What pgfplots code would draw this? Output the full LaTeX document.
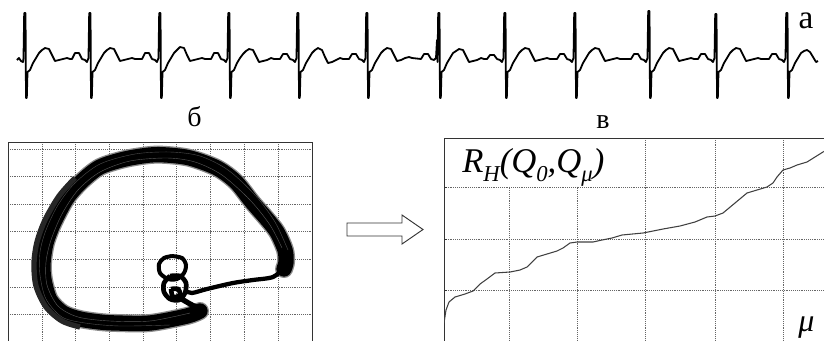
\documentclass[border=0pt]{standalone}
\usepackage{fontspec}
\setmainfont{Liberation Serif}
\usepackage{pgfplots}
\pgfplotsset{compat=1.18}
\newcommand{\sub}[2]{\raisebox{-0.28em}{\fontsize{#1}{#1}\selectfont #2}}
\begin{document}
\begin{tikzpicture}
\useasboundingbox (0,0) rectangle (618pt,-255pt);
\clip (0,0) rectangle (618pt,-255pt);
% ---------- bottom-left: phase portrait ----------
\begin{axis}[at={(6pt,-106.5pt)}, anchor=north west, scale only axis,
  width=228pt, height=157.5pt,
  xmin=8, xmax=312, ymin=142, ymax=352, y dir=reverse,
  xtick={42,75.7,109.4,143.1,176.8,210.5,244.2,277.9},
  ytick={149,176.6,204.2,231.8,259.4,287,314.6,342.2},
  xticklabels={}, yticklabels={}, major tick length=0pt,
  grid=major, grid style={densely dotted, black!60, line width=0.6pt},
  axis line style={line width=0.7pt, black!80}]
\addplot[black!45, line width=13.5pt, smooth, line cap=round] coordinates {
 (200,311)(187,316)(150,323)(117,323)(100,322)(80,319)(63,313)(50,300)(44,280)(43,263)(46,243)(54,222)(67,198)(82,181)(100,167)(125,159)(150,155)(167,155)(190,158)(217,168)(236,182)(252,202)(266,218)(277,232)(285,250)(286,262)(284,269)};
\addplot[black, line width=11.5pt, smooth, line cap=round] coordinates {
 (200,311)(187,316)(150,323)(117,323)(100,322)(80,319)(63,313)(50,300)(44,280)(43,263)(46,243)(54,222)(67,198)(82,181)(100,167)(125,159)(150,155)(167,155)(190,158)(217,168)(236,182)(252,202)(266,218)(277,232)(285,250)(286,262)(284,269)};
\addplot[black!85, line width=4pt, smooth] coordinates {
 (80,327)(62,321)(46,307)(36,286)(34,263)(37,242)(45,220)(59,196)(75,178)};
\addplot[white, line width=0.3pt, smooth, opacity=0.35] coordinates {
 (190,313)(150,321)(110,321)(78,317)(58,306)(47,285)(46,262)(51,240)(62,214)(78,190)(100,172)(130,161)(167,158)(195,162)(222,175)(250,200)(270,225)(282,248)};
\addplot[white, line width=0.3pt, smooth, opacity=0.3] coordinates {
 (170,325)(120,326)(85,323)(62,317)(46,299)(40,275)(40,252)(46,230)(58,205)(75,183)(100,164)(135,154)(170,152)(200,156)(228,170)(255,195)(275,222)(288,250)};
\addplot[black, line width=3.2pt, smooth] coordinates {
 (284,268)(273,277)(253,280)(233,283)(207,289)(192,293)(186,291)};
\addplot[black, line width=3pt, smooth] coordinates {
 (172,256)(182,258)(186,265)(184,273)(177,279)(168,279)(160,273)(159,264)(164,258)(172,256)};
\addplot[black, line width=3.5pt, smooth] coordinates {
 (170,276)(180,276)(186,283)(185,293)(179,300)(170,299)(164,292)(164,283)(170,276)};
\addplot[black, line width=3.5pt, smooth] coordinates {
 (171,289)(178,289)(180,295)(173,297)(171,289)};
\addplot[black, line width=4pt, smooth] coordinates {
 (180,298)(192,305)(203,310)};
\end{axis}
% ---------- bottom-right: R_H curve ----------
\begin{axis}[at={(333pt,-103.5pt)}, anchor=north west, scale only axis,
  width=319.5pt, height=160.5pt,
  xmin=444, xmax=870, ymin=138, ymax=352, y dir=reverse,
  xtick={509,577,645,715,783,851}, ytick={187,239,290},
  xticklabels={}, yticklabels={},
  xtick style={draw=none}, ytick style={line width=0.6pt, black!80},
  tick align=inside, major tick length=2.5pt, ytick pos=left,
  grid=major, grid style={densely dotted, black!60, line width=0.7pt},
  axis line style={line width=0.7pt, black!80}]
\fill[white] (axis cs:445.5,139.5) rectangle (axis cs:612,186);
\addplot[black!75, line width=0.8pt] coordinates {
 (444,323)(446,310)(449,302)(455,297)(465,294)(473,291)(480,284)(487,279)(495,273)(510,272)(520,270)(527,267)(537,257)(547,254)(557,251)(563,248)(570,243)(577,242)(593,242)(602,240)(612,238)(622,235)(643,233)(663,229)(680,226)(695,222)(707,217)(715,216)(723,213)(735,203)(747,193)(757,190)(767,187)(773,183)(777,177)(783,170)(790,168)(797,165)(807,162)(815,157)(823,152)(830,148)};
\end{axis}
% ---------- full image: ECG, arrow, labels ----------
\begin{axis}[at={(0pt,0pt)}, anchor=north west, scale only axis,
  width=618pt, height=255pt,
  xmin=0, xmax=824, ymin=0, ymax=340, y dir=reverse,
  axis lines=none, ticks=none, clip=false]
\addplot[black, line width=1.35pt, line join=round] coordinates {
(17,60)(19,58)(21,61)(23,62)(23.5,58)(24.2,13)(25.5,13)(26,98)(26.8,98)(27.5,72)(30,70)(33,63)(36,58)(39,53)(42,50)(45,48)(49,49)(52,55)(55,61)(59,60)(63,59)(67,58)(70,59)
(72,59)(75,53)(79,53)(82,59)(85,60)(87,62)(88.5,58)(89.2,13)(90.5,13)(91,98)(91.8,98)(92.5,72)(95,70)(98,63)(101,58)(104,53)(107,50)(110,48)(114,49)(117,55)(120,61)(124,60)(128,59)(132,58)(135,59)
(142,59)(145,53)(149,53)(152,59)(155,60)(157,62)(158.5,58)(159.2,13)(160.5,13)(161,98)(161.8,98)(162.5,72)(165,70)(168,63)(171,58)(174,53)(177,50)(180,47)(184,48)(187,55)(190,61)(194,60)(198,59)(202,58)(205,59)
(211,59)(214,53)(218,53)(221,59)(224,60)(226,62)(227.5,58)(228.2,13)(229.5,13)(230,98)(230.8,98)(231.5,72)(234,70)(237,63)(240,58)(243,54)(246,51)(249,49)(253,50)(256,56)(259,62)(263,61)(267,60)(271,58)(274,59)
(280,59)(283,54)(287,54)(290,59)(293,60)(295,62)(296.5,58)(297.2,13)(298.5,13)(299,98)(299.8,98)(300.5,72)(303,70)(306,63)(309,58)(312,53)(315,50)(318,48)(322,50)(325,57)(328,63)(332,62)(336,60)(340,58)(343,59)
(349,59)(352,54)(356,54)(359,59)(362,60)(364,62)(365.5,58)(366.2,13)(367.5,13)(368,98)(368.8,98)(369.5,72)(372,70)(375,63)(378,58)(381,53)(384,50)(387,48)(391,49)(394,55)(397,61)(401,60)(405,58)(409,57)(412,58)
(421,59)(424,54)(428,54)(431,59)(434,60)(436,58)(437,40)(437.5,62)(438.2,13)(439.5,13)(440,98)(440.8,98)(441.5,72)(444,70)(447,63)(450,58)(453,53)(456,51)(459,49)(463,50)(466,56)(469,62)(473,61)(477,60)(481,58)(484,59)
(487,59)(490,55)(494,55)(497,59)(500,60)(502,62)(503.5,58)(504.2,13)(505.5,13)(506,98)(506.8,98)(507.5,72)(510,70)(513,63)(516,58)(519,53)(522,50)(525,48)(529,49)(532,55)(535,61)(539,60)(543,59)(547,58)(550,59)
(557,59)(560,54)(564,54)(567,59)(570,60)(572,62)(573.5,58)(574.2,13)(575.5,13)(576,98)(576.8,98)(577.5,72)(580,70)(583,63)(586,58)(589,53)(592,50)(595,48)(599,49)(602,55)(605,61)(609,60)(613,59)(617,58)(620,59)
(631,59)(634,54)(638,54)(641,59)(644,60)(646,62)(647.5,58)(648.2,11)(649.5,11)(650,98)(650.8,98)(651.5,72)(654,70)(657,63)(660,58)(663,53)(666,50)(669,48)(673,49)(676,55)(679,61)(683,60)(687,59)(691,58)(694,59)
(698,59)(701,54)(705,54)(708,59)(711,60)(713,62)(714.5,58)(715.2,14)(716.5,14)(717,98)(717.8,98)(718.5,72)(721,70)(724,63)(727,58)(730,53)(733,50)(736,48)(740,49)(743,55)(746,61)(750,60)(754,59)(758,58)(761,59)
(769,59)(772,54)(776,54)(779,59)(782,60)(784,62)(785.5,58)(786.2,13)(787.5,13)(788,98)(788.8,98)(789.5,72)(792,70)(795,63)(798,58)(801,53)(804,51)(807,50)(810,52)(813,57)(816,62)(818,61)};
% arrow
\draw[black!80, line width=0.7pt, fill=white, line join=miter]
 (axis cs:347,223) -- (axis cs:402,223) -- (axis cs:402,215) -- (axis cs:423,229.5)
 -- (axis cs:402,244) -- (axis cs:402,236) -- (axis cs:347,236) -- cycle;
% labels
\node[anchor=base, inner sep=0pt, font=\fontsize{25}{29}\selectfont] at (axis cs:806,28) {а};
\node[anchor=base, inner sep=0pt, font=\fontsize{21}{25}\selectfont] at (axis cs:194.5,126) {б};
\node[anchor=base, inner sep=0pt, font=\fontsize{21}{25}\selectfont] at (axis cs:603,128) {в};
\node[anchor=base west, inner sep=0pt, font=\fontsize{26}{30}\selectfont\itshape] at (axis cs:462,172)
 {R\sub{17}{H}(Q\sub{17}{0},Q\sub{17}{μ})};
\node[anchor=base west, inner sep=0pt, font=\fontsize{24}{28}\selectfont\itshape] at (axis cs:798,331) {μ};
\end{axis}
\end{tikzpicture}
\end{document}
